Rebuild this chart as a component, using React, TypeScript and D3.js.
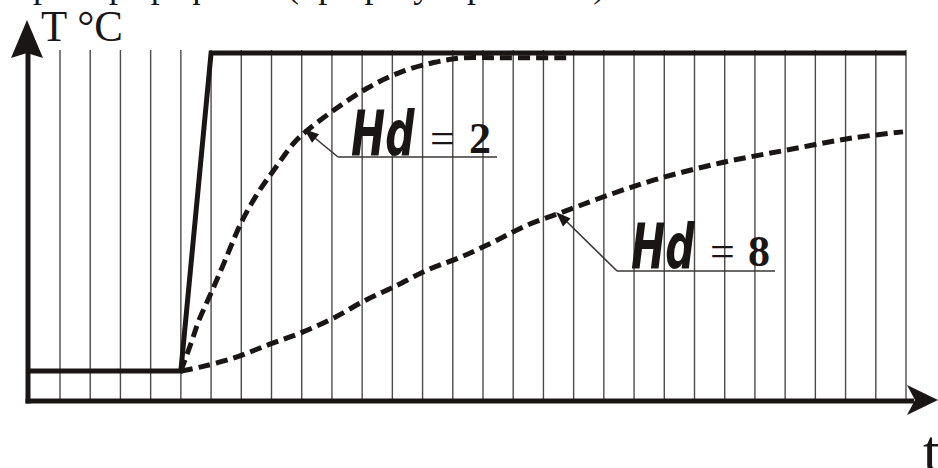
import React from "react";
import * as d3 from "d3";

// time in grid divisions, temperature as fraction of set-point step
const gridTicks: number[] = d3.range(0, 29);
const stepTime: number[] = [-1, 4, 5, 28];
const stepLevel: number[] = [0, 0, 1, 1];

const hd2Time: number[] = [4, 4.34, 4.6, 5.0, 5.43, 5.99, 6.55, 7.08, 7.74, 8.2, 9.06, 10.18, 11.28, 12.37, 13.26, 14.5, 16.8];
const hd2Temp: number[] = [0, 0.088, 0.16, 0.245, 0.34, 0.465, 0.56, 0.632, 0.717, 0.758, 0.82, 0.89, 0.94, 0.97, 0.984, 0.985, 0.985];

const hd8Time: number[] = [4, 4.67, 5.76, 6.88, 7.97, 9.06, 10.1, 11.04, 12.17, 13.26, 14.35, 15.47, 16.56, 17.88, 19.64, 21.85, 24.06, 26.24, 27.9];
const hd8Temp: number[] = [0, 0.013, 0.041, 0.082, 0.12, 0.167, 0.222, 0.264, 0.318, 0.358, 0.406, 0.459, 0.497, 0.544, 0.6, 0.654, 0.695, 0.733, 0.752];

const labelNames: string[] = ["Hd", "Hd"];
const labelValues: string[] = ["2", "8"];
const yAxisTitle = "T °C";
const xAxisTitle = "t";
const headerText = "Пример графиков (при регулировании)";

const INK = "#1b1616";

function arrowHead(tipX: number, tipY: number, fromX: number, fromY: number, len: number, half: number) {
  const a = Math.atan2(tipY - fromY, tipX - fromX);
  const bx = tipX - len * Math.cos(a);
  const by = tipY - len * Math.sin(a);
  const px = -Math.sin(a) * half;
  const py = Math.cos(a) * half;
  return `M${tipX},${tipY}L${bx + px},${by + py}L${bx - px},${by - py}Z`;
}

export default function App() {
  const W = 938;
  const H = 468;
  const x = d3.scaleLinear().domain([0, 28]).range([60, 906]);
  const y = d3.scaleLinear().domain([0, 1]).range([371, 53]);

  const axisY = 401;
  const axisX = 28;

  const stepLine = d3
    .line<number>()
    .x((d) => x(stepTime[d]))
    .y((d) => y(stepLevel[d]));

  const curve = (ts: number[], vs: number[]) =>
    d3
      .line<number>()
      .x((d) => x(ts[d]))
      .y((d) => y(vs[d]))
      .curve(d3.curveCatmullRom.alpha(0.5))(d3.range(ts.length)) || "";

  const labels = [
    { hx: 351, hy: 155, ex: 430, vx: 469, ul: [338, 497, 157], tip: [304, 129], from: [338, 157] },
    { hx: 631, hy: 268, ex: 710, vx: 748, ul: [617, 775, 271], tip: [556, 212], from: [617, 271] },
  ];

  return (
    <svg
      width={W}
      height={H}
      viewBox={`0 0 ${W} ${H}`}
      style={{ position: "absolute", left: 0, top: 0, background: "#fff", display: "block" }}
    >
      <rect x={0} y={0} width={W} height={H} fill="#fff" />
      {/* cut-off heading line above */}
      <text x={7} y={-3} fontFamily="'Liberation Serif', serif" fontSize={36} fill={INK}>
        {headerText}
      </text>

      {/* vertical grid */}
      {gridTicks.map((k) => (
        <line key={k} x1={x(k)} x2={x(k)} y1={50} y2={axisY} stroke="#4d4a4a" strokeWidth={1.4} />
      ))}

      {/* axes */}
      <line x1={axisX} x2={axisX} y1={axisY + 2.5} y2={50} stroke={INK} strokeWidth={5} />
      <path d={`M27,20L11,58L27,53L43,58Z`} fill={INK} />
      <line x1={axisX - 2.5} x2={914} y1={axisY} y2={axisY} stroke={INK} strokeWidth={5} />
      <path d={`M938,400L907,385L915,400L907,415Z`} fill={INK} />

      <text x={41} y={41} fontFamily="'Liberation Serif', serif" fontSize={45} fill={INK} textLength={82} lengthAdjust="spacingAndGlyphs">
        {yAxisTitle}
      </text>
      <text x={923} y={471} fontFamily="'Liberation Serif', serif" fontSize={60} fill={INK}>
        {xAxisTitle}
      </text>

      {/* step input */}
      <path d={stepLine(d3.range(stepTime.length)) || ""} fill="none" stroke={INK} strokeWidth={5} strokeLinejoin="miter" />

      {/* responses */}
      <path d={curve(hd2Time, hd2Temp)} fill="none" stroke={INK} strokeWidth={5} strokeDasharray="12 6" />
      <path d={curve(hd8Time, hd8Temp)} fill="none" stroke={INK} strokeWidth={5} strokeDasharray="12 6" />

      {/* callouts */}
      {labels.map((l, i) => (
        <g key={i}>
          <line x1={l.ul[0]} x2={l.ul[1]} y1={l.ul[2]} y2={l.ul[2]} stroke="#3a3636" strokeWidth={1.6} />
          <line x1={l.from[0]} y1={l.from[1]} x2={l.tip[0] + 6} y2={l.tip[1] + 5} stroke="#3a3636" strokeWidth={1.6} />
          <path d={arrowHead(l.tip[0], l.tip[1], l.from[0], l.from[1], 15, 5.5)} fill={INK} />
          <text
            transform={`translate(${l.hx},${l.hy}) scale(0.66,1)`}
            fontFamily="'DejaVu Sans', sans-serif"
            fontWeight="bold"
            fontStyle="italic"
            fontSize={62}
            fill={INK}
          >
            {labelNames[i]}
          </text>
          <text x={l.ex} y={l.hy - 2} fontFamily="'Liberation Serif', serif" fontSize={44} fill={INK}>
            =
          </text>
          <text x={l.vx} y={l.hy - 2} fontFamily="'Liberation Serif', serif" fontWeight="bold" fontSize={44} fill={INK}>
            {labelValues[i]}
          </text>
        </g>
      ))}
    </svg>
  );
}
